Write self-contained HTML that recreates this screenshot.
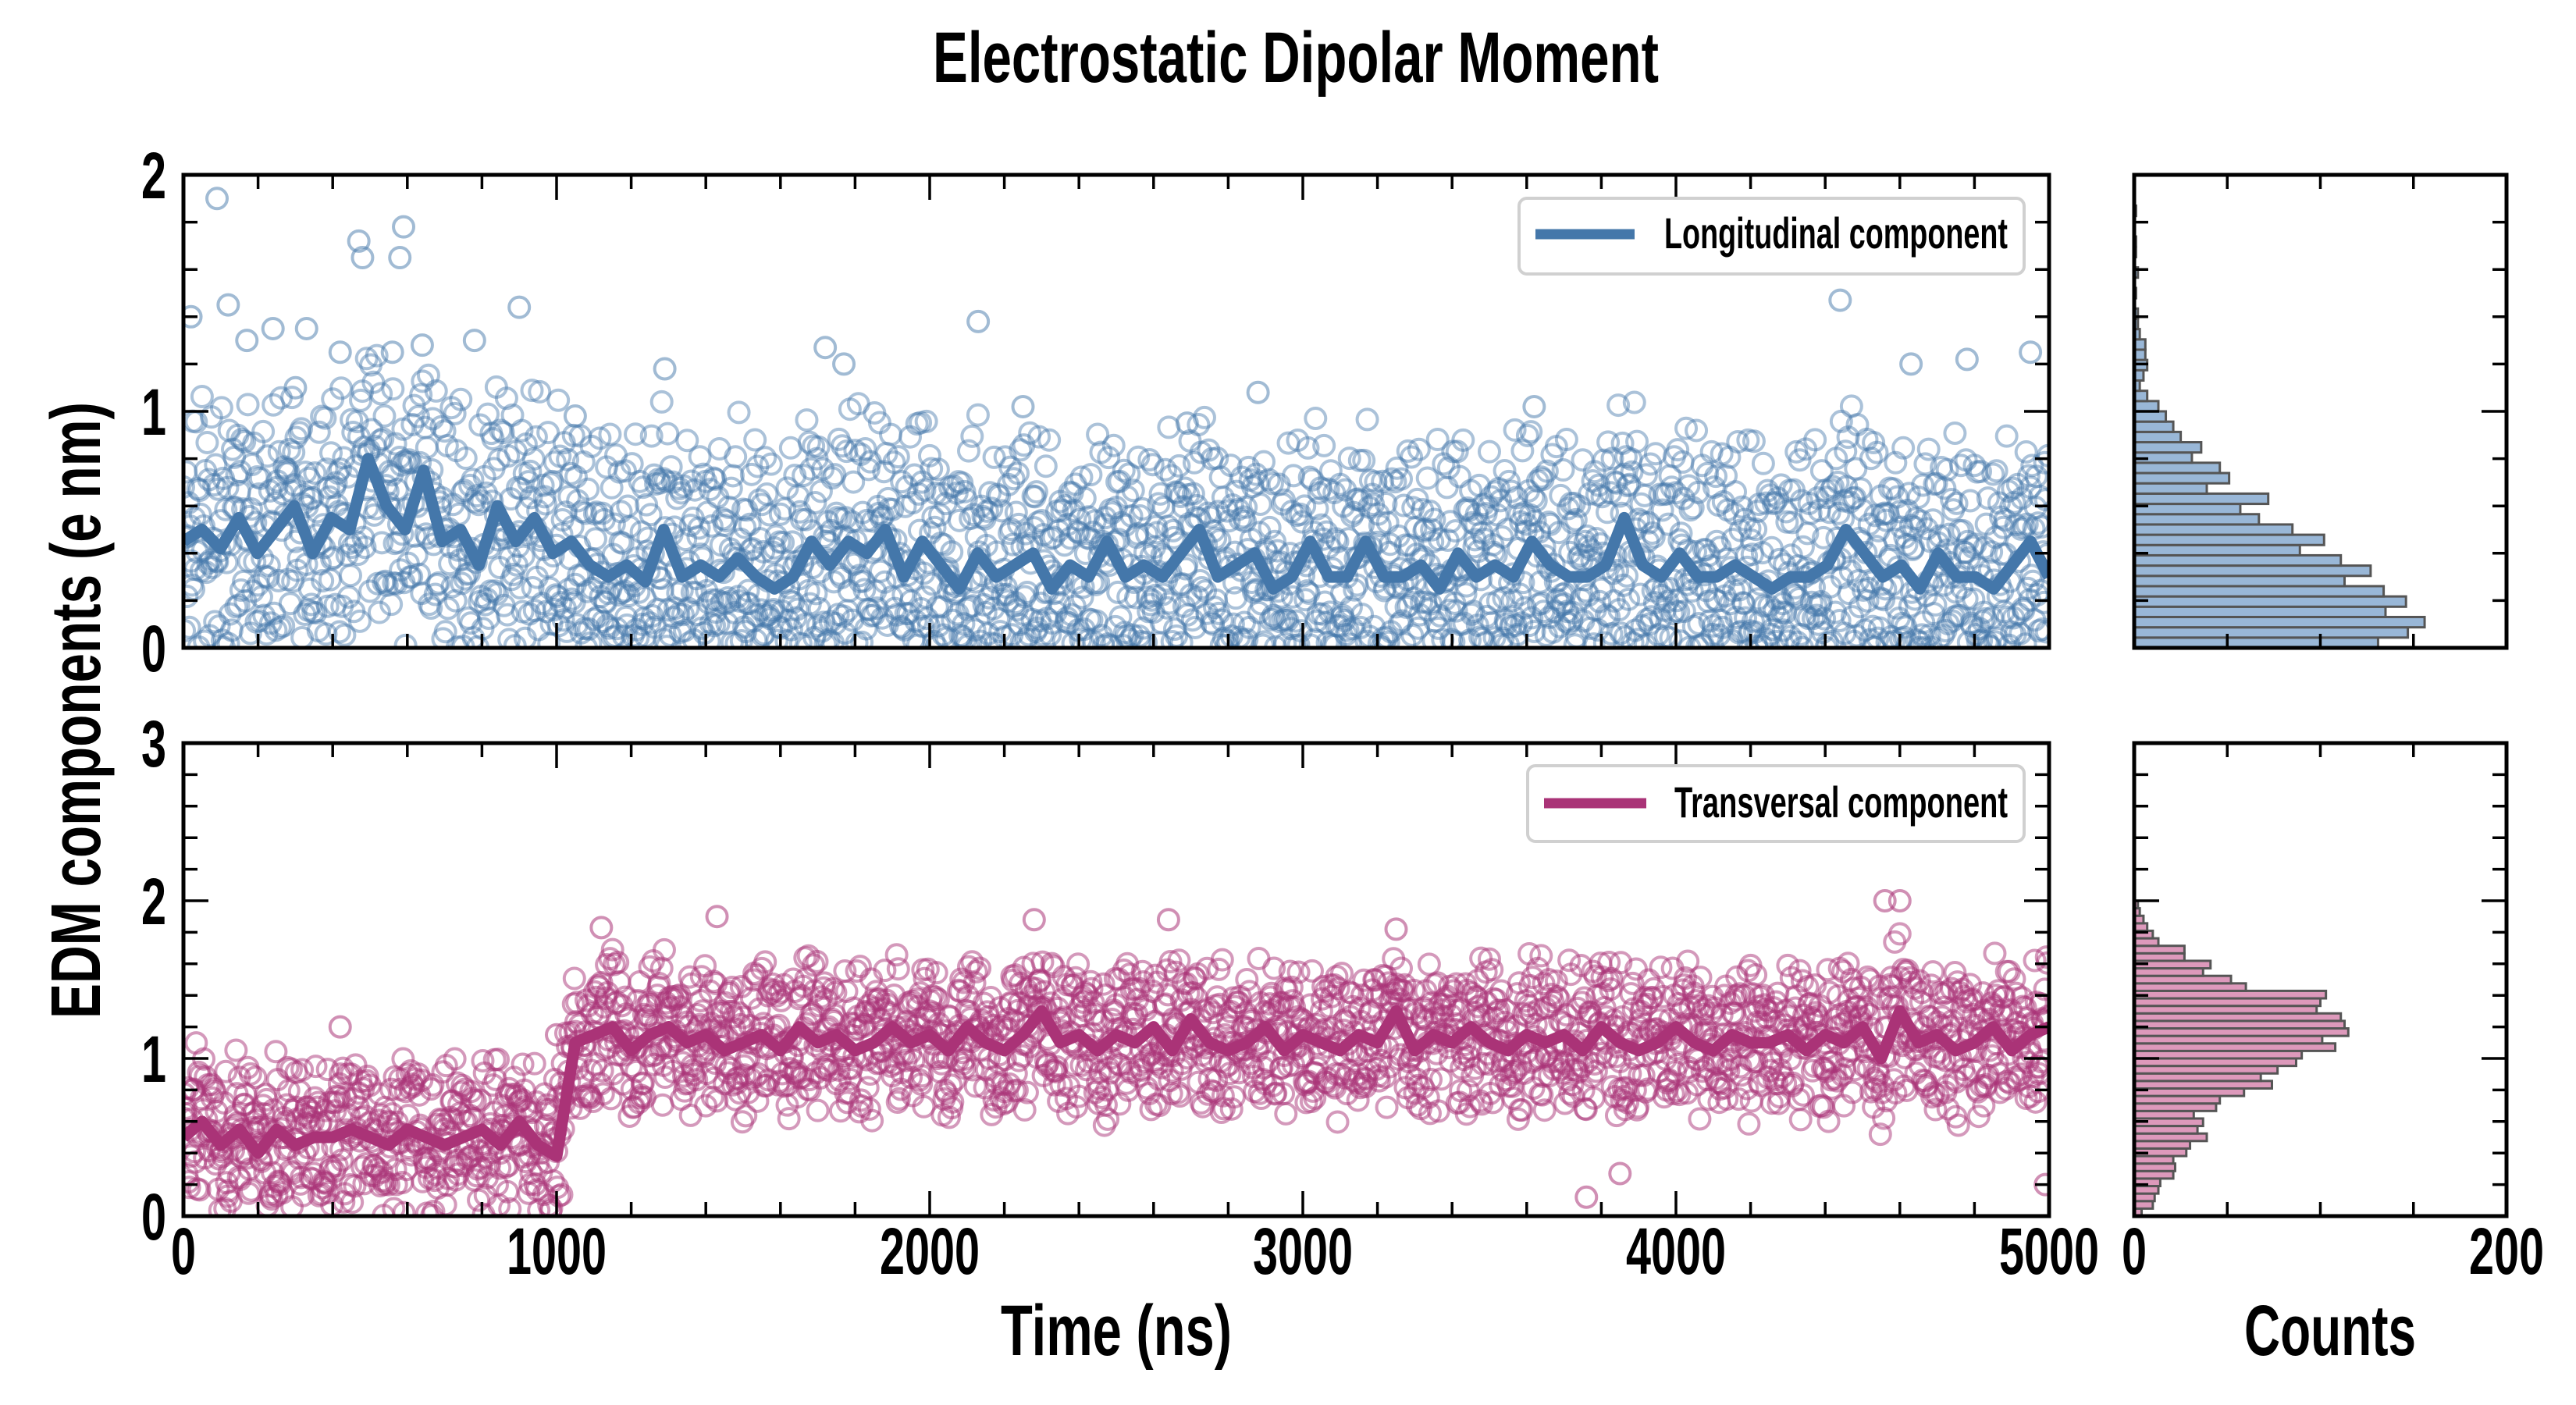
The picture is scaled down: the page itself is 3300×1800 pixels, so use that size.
<!DOCTYPE html>
<html><head><meta charset="utf-8"><style>
html,body{margin:0;padding:0;background:#fff;}
svg{display:block;font-family:"Liberation Sans Narrow","Liberation Sans",sans-serif;font-weight:bold;}
</style></head><body>
<svg id="chart" width="3300" height="1800" viewBox="0 0 3300 1800" xmlns="http://www.w3.org/2000/svg">
<defs>
<clipPath id="clipTop"><rect x="235" y="224" width="2390" height="606"/></clipPath>
<clipPath id="clipBot"><rect x="235" y="952" width="2390" height="606"/></clipPath>
</defs>
<text x="1660" y="105" text-anchor="middle" font-size="92" textLength="930" lengthAdjust="spacingAndGlyphs">Electrostatic Dipolar Moment</text>
<g id="gTopScatter" clip-path="url(#clipTop)"></g>
<g id="gBotScatter" clip-path="url(#clipBot)"></g>
<g id="gLines"></g>
<g id="gHist"></g>
<g id="gAxes"></g>
<text transform="translate(128,910) rotate(-90)" text-anchor="middle" font-size="90" textLength="790" lengthAdjust="spacingAndGlyphs">EDM components (e nm)</text>
<text x="1430" y="1736" text-anchor="middle" font-size="92" textLength="296" lengthAdjust="spacingAndGlyphs">Time (ns)</text>
<text x="2985" y="1736" text-anchor="middle" font-size="92" textLength="220" lengthAdjust="spacingAndGlyphs">Counts</text>
<g>
<rect x="1946" y="254" width="647" height="97" rx="10" fill="#fff" stroke="#d0d0d0" stroke-width="4"/>
<line x1="1967" y1="300" x2="2094" y2="300" stroke="#4477aa" stroke-width="13"/>
<text x="2132" y="318" font-size="56" textLength="440" lengthAdjust="spacingAndGlyphs">Longitudinal component</text>
</g>
<g>
<rect x="1957" y="981" width="636" height="97" rx="10" fill="#fff" stroke="#d0d0d0" stroke-width="4"/>
<line x1="1978" y1="1029" x2="2109" y2="1029" stroke="#aa3377" stroke-width="13"/>
<text x="2145" y="1047" font-size="56" textLength="427" lengthAdjust="spacingAndGlyphs">Transversal component</text>
</g>
</svg>
<script>
const longMean=[0.45,0.5,0.42,0.55,0.4,0.5,0.6,0.4,0.55,0.5,0.8,0.6,0.5,0.75,0.45,0.5,0.35,0.6,0.45,0.55,0.4,0.45,0.35,0.3,0.35,0.28,0.5,0.3,0.35,0.3,0.38,0.3,0.25,0.3,0.45,0.35,0.45,0.4,0.5,0.3,0.45,0.35,0.25,0.4,0.3,0.35,0.4,0.25,0.35,0.3,0.45,0.3,0.35,0.3,0.4,0.5,0.3,0.35,0.4,0.25,0.3,0.45,0.3,0.3,0.45,0.3,0.3,0.35,0.25,0.4,0.3,0.35,0.3,0.45,0.35,0.3,0.3,0.35,0.55,0.35,0.3,0.4,0.3,0.3,0.35,0.3,0.25,0.3,0.3,0.35,0.5,0.4,0.3,0.35,0.25,0.4,0.3,0.3,0.25,0.35,0.45,0.3];
const transMean=[0.5,0.6,0.45,0.55,0.4,0.55,0.45,0.5,0.5,0.55,0.5,0.45,0.55,0.5,0.45,0.5,0.55,0.45,0.6,0.45,0.38,1.1,1.15,1.2,1.05,1.15,1.2,1.1,1.15,1.05,1.1,1.15,1.05,1.2,1.1,1.15,1.05,1.1,1.2,1.1,1.15,1.05,1.2,1.1,1.05,1.15,1.3,1.1,1.15,1.05,1.15,1.1,1.2,1.05,1.25,1.1,1.05,1.1,1.2,1.05,1.15,1.1,1.05,1.15,1.1,1.3,1.05,1.15,1.1,1.2,1.1,1.05,1.15,1.1,1.15,1.05,1.2,1.1,1.05,1.1,1.2,1.1,1.05,1.15,1.1,1.1,1.15,1.05,1.15,1.1,1.2,1.0,1.3,1.1,1.15,1.05,1.1,1.2,1.05,1.15,1.2];
const devA=[0.12,-0.31,0.05,0.38,-0.22,-0.04,0.27,-0.36,0.18,0.02,-0.15,0.33,-0.28,0.09,-0.07,0.41,-0.19,0.23,-0.33,0.01,0.15,-0.26,0.36,-0.11,0.07,-0.39,0.21,-0.02,0.29,-0.17,0.11,-0.3,0.04,0.34,-0.24,-0.08,0.19,-0.35,0.26,0.0,-0.13,0.31,-0.21,0.08,-0.05,0.39,-0.27,0.16,-0.37,0.03,0.24,-0.1,0.13,-0.29,0.35,-0.16,0.06,-0.34,0.2,-0.01,0.28];
const devB=[0.08,-0.12,0.03,0.14,-0.06,-0.1,0.11,-0.02,0.05,-0.14,0.09,0.0,-0.08,0.13,-0.04,0.07,-0.11,0.02,0.12,-0.09,0.04,-0.13,0.1,-0.03,0.06,-0.07,0.15,-0.05,0.01,-0.15,0.09,0.03,-0.1,0.12,-0.01,0.05,-0.12,0.08,-0.06,0.14,-0.08,0.02,-0.14,0.11,-0.03,0.07,-0.09];
const longOutT=[90,470,480,590,580,4440,2130,20,120,170,240,330,420,560,640,780,900,1290,1720,1770,2250,2690,2880,4630,4780,4950,300,1050,3620];
const longOutV=[1.9,1.72,1.65,1.78,1.65,1.47,1.38,1.4,1.45,1.3,1.35,1.35,1.25,1.25,1.28,1.3,1.44,1.18,1.27,1.2,1.02,0.95,1.08,1.2,1.22,1.25,1.1,0.98,1.02];
const transOutT=[1430,2280,2640,3760,3850,4560,4600,4990,1120,3250,1000,420];
const transOutV=[1.9,1.88,1.88,0.12,0.27,2.0,2.0,0.2,1.83,1.82,1.15,1.2];
const longHist=[131,147,156,135,146,134,113,127,111,89,102,85,67,57,72,39,51,46,31,36,25,21,17,13,7,3,5,7,6,6,3,2,2,0,1,0,2,0,1,1,0,0,1,0,0,0];
const transHist=[4,10,11,13,14,21,22,21,28,30,39,34,37,32,44,46,59,74,68,77,87,90,108,101,115,113,111,98,100,103,60,52,37,41,27,27,13,10,7,5,3,2];
const xTicksMain=[0,1000,2000,3000,4000,5000];
const yTicksTop=[0,1,2];
const yTicksBot=[0,1,2,3];
const histTicks=[0,200];

const NS="http://www.w3.org/2000/svg";
const AX={l:235,r:2625,tt:224,tb:830,bt:952,bb:1558,hl:2734,hr:3211};
function xs(t){return AX.l+t/5000*(AX.r-AX.l);}
function yTop(v){return AX.tb-v/2*(AX.tb-AX.tt);}
function yBot(v){return AX.bb-v/3*(AX.bb-AX.bt);}
function hx(c){return AX.hl+c/200*(AX.hr-AX.hl);}
function mk(tag,attrs,parent){const e=document.createElementNS(NS,tag);for(const k in attrs)e.setAttribute(k,attrs[k]);parent.appendChild(e);return e;}
function interp(arr,t){const p=t/5000*(arr.length-1);const i=Math.min(Math.floor(p),arr.length-2);const f=p-i;return arr[i]*(1-f)+arr[i+1]*f;}

const gTS=document.getElementById('gTopScatter'),gBS=document.getElementById('gBotScatter');
const N=2200;
for(let i=0;i<N;i++){
  const t=i*5000/N;
  const d=devA[i%devA.length]+devB[(i*7)%devB.length];
  const v=Math.abs(interp(longMean,t)+1.15*d);
  const c=mk('circle',{cx:xs(t),cy:yTop(v),r:13,fill:'none',stroke:'#4477aa','stroke-opacity':0.45,'stroke-width':4},gTS);
  
  
  const d2=devA[(i*3)%devA.length]+devB[(i*5+11)%devB.length];
  const v2=Math.abs(interp(transMean,t)+1.0*d2);
  const c2=mk('circle',{cx:xs(t),cy:yBot(v2),r:13,fill:'none',stroke:'#aa3377','stroke-opacity':0.5,'stroke-width':4},gBS);
  
  
}
longOutT.forEach((t,k)=>{const c=mk('circle',{cx:xs(t),cy:yTop(longOutV[k]),r:13,fill:'none',stroke:'#4477aa','stroke-opacity':0.5,'stroke-width':4},gTS);
  
  });
transOutT.forEach((t,k)=>{const c=mk('circle',{cx:xs(t),cy:yBot(transOutV[k]),r:13,fill:'none',stroke:'#aa3377','stroke-opacity':0.55,'stroke-width':4},gBS);
  
  });

const gL=document.getElementById('gLines');
function linePath(arr,yf){return arr.map((v,i)=>(i?'L':'M')+xs(i*5000/(arr.length-1)).toFixed(1)+','+yf(v).toFixed(1)).join('');}
const l1=mk('path',{d:linePath(longMean,yTop),fill:'none',stroke:'#4477aa','stroke-width':15,'stroke-linejoin':'round','clip-path':'url(#clipTop)'},gL);


const l2=mk('path',{d:linePath(transMean,yBot),fill:'none',stroke:'#aa3377','stroke-width':15,'stroke-linejoin':'round','clip-path':'url(#clipBot)'},gL);



const gH=document.getElementById('gHist');
const bwL=2/longHist.length;
longHist.forEach((c,i)=>{if(!c)return;const y0=yTop(i*bwL),y1=yTop((i+1)*bwL);
  const r=mk('rect',{x:hx(0),y:y1,width:hx(c)-hx(0),height:y0-y1,fill:'#99b7d7',stroke:'#555','stroke-width':3},gH);
  
  });
const bwT=2/transHist.length;
transHist.forEach((c,i)=>{if(!c)return;const y0=yBot(i*bwT),y1=yBot((i+1)*bwT);
  const r=mk('rect',{x:hx(0),y:y1,width:hx(c)-hx(0),height:y0-y1,fill:'#dd99bb',stroke:'#555','stroke-width':3},gH);
  
  });

const gA=document.getElementById('gAxes');
function frame(x0,y0,x1,y1,name){const r=mk('rect',{x:x0,y:y0,width:x1-x0,height:y1-y0,fill:'none',stroke:'#000','stroke-width':5},gA);
  
  }
function tick(x1,y1,x2,y2){mk('line',{x1,y1,x2,y2,stroke:'#000','stroke-width':3.5},gA);}
function label(x,y,txt,anchor,name){const t=mk('text',{x,y,'text-anchor':anchor,'font-size':84,textLength:32*txt.length,lengthAdjust:'spacingAndGlyphs'},gA);t.textContent=txt;
  
  }
frame(AX.l,AX.tt,AX.r,AX.tb,'top-plot-frame');
frame(AX.l,AX.bt,AX.r,AX.bb,'bottom-plot-frame');
frame(AX.hl,AX.tt,AX.hr,AX.tb,'top-hist-frame');
frame(AX.hl,AX.bt,AX.hr,AX.bb,'bottom-hist-frame');
for(let t=0;t<=5000;t+=200){const x=xs(t),L=(t%1000===0)?32:18;
  [[AX.tt,AX.tb],[AX.bt,AX.bb]].forEach(([a,b])=>{tick(x,a,x,a+L);tick(x,b,x,b-L);});}
xTicksMain.forEach(t=>label(xs(t),1632,String(t),'middle','x-tick-label'));
for(let v=0;v<=2.001;v+=0.2){const y=yTop(v),L=(Math.abs(v-Math.round(v))<1e-6)?32:18;
  tick(AX.l,y,AX.l+L,y);tick(AX.r,y,AX.r-L,y);tick(AX.hl,y,AX.hl+L,y);tick(AX.hr,y,AX.hr-L,y);}
for(let v=0;v<=3.001;v+=0.2){const y=yBot(v),L=(Math.abs(v-Math.round(v))<1e-6)?32:18;
  tick(AX.l,y,AX.l+L,y);tick(AX.r,y,AX.r-L,y);tick(AX.hl,y,AX.hl+L,y);tick(AX.hr,y,AX.hr-L,y);}
yTicksTop.forEach(v=>label(AX.l-22,yTop(v)+30,String(v),'end','y-tick-label-top'));
yTicksBot.forEach(v=>label(AX.l-22,yBot(v)+30,String(v),'end','y-tick-label-bottom'));
for(let c=0;c<=200;c+=50){const x=hx(c);
  [[AX.tt,AX.tb],[AX.bt,AX.bb]].forEach(([a,b])=>{tick(x,a,x,a+18);tick(x,b,x,b-18);});}
histTicks.forEach(c=>label(hx(c),1632,String(c),'middle','hist-tick-label'));
</script>
</body></html>
